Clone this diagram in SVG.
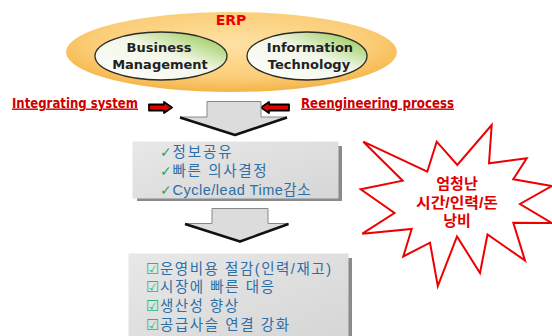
<svg xmlns="http://www.w3.org/2000/svg" width="552" height="336" viewBox="0 0 552 336">
<defs>
<radialGradient id="gOrange" cx="50%" cy="40%" r="60%">
<stop offset="0" stop-color="#fde2a4"/>
<stop offset="0.7" stop-color="#fbcd78"/>
<stop offset="1" stop-color="#f4b447"/>
</radialGradient>
<linearGradient id="gGreen" x1="0" y1="1" x2="1" y2="0">
<stop offset="0" stop-color="#ffffff"/>
<stop offset="0.55" stop-color="#f2f6e6"/>
<stop offset="1" stop-color="#86c23a"/>
</linearGradient>
<linearGradient id="gBox" x1="0" y1="0" x2="1" y2="1">
<stop offset="0" stop-color="#e8e8e8"/>
<stop offset="1" stop-color="#d6d6d6"/>
</linearGradient>
</defs>
<style>
.inner{stroke:#2a2a2a;stroke-width:1.3;fill:url(#gGreen)}
.nt{font-family:"DejaVu Sans",sans-serif;font-weight:bold;font-size:13px;fill:#222;text-anchor:middle}
.lbl{font-family:"DejaVu Sans Condensed","DejaVu Sans",sans-serif;font-weight:bold;font-size:14px;fill:#cc0000;text-decoration:underline}
.sarrow{fill:#e00000;stroke:#000;stroke-width:1.8;stroke-linejoin:round}
.bigarrow{fill:#dcdcdc;stroke:#888;stroke-width:1}
.bigedge{fill:none;stroke:#111;stroke-width:2.5;stroke-linejoin:round}
.shadow{fill:#8a8a8a}
.box{fill:url(#gBox)}
.bt{font-family:"Liberation Sans","Noto Sans CJK KR",sans-serif;font-size:14.5px;fill:#2b6fa6}
.chk{fill:#22a86e;font-family:"DejaVu Sans",sans-serif;font-size:14px}
.cb{fill:#22bb77;font-family:"DejaVu Sans",sans-serif;font-size:15px}
.star{fill:#fff;stroke:#ee0000;stroke-width:2;stroke-linejoin:miter}
.st{font-family:"Liberation Sans","Noto Sans CJK KR",sans-serif;font-weight:bold;font-size:15px;fill:#e00000;text-anchor:middle}
</style>

<g id="erp">
<ellipse cx="231.5" cy="52" rx="165.5" ry="40" fill="url(#gOrange)"/>
<text x="231" y="25" font-family="DejaVu Sans,sans-serif" font-weight="bold" font-size="14" fill="#ee0000" text-anchor="middle">ERP</text>
</g>
<g id="business">
<ellipse class="inner" cx="161" cy="56" rx="66" ry="24"/>
<text class="nt" x="159" y="51.5">Business</text>
<text class="nt" x="160" y="68.5">Management</text>
</g>
<g id="it">
<ellipse class="inner" cx="307" cy="56" rx="60" ry="24"/>
<text class="nt" x="310" y="51.5">Information</text>
<text class="nt" x="309" y="68.5">Technology</text>
</g>

<g id="integrating">
<text class="lbl" x="12" y="107.5" textLength="126" lengthAdjust="spacingAndGlyphs">Integrating system</text>
</g>
<g id="reengineering">
<text class="lbl" x="301" y="107.5" textLength="153" lengthAdjust="spacingAndGlyphs">Reengineering process</text>
</g>

<g id="connectors">
<path class="sarrow" d="M149 104.5H164V102L172 107.5L164 113V110.5H149Z"/>
<path class="sarrow" d="M289 104.5H269V102L261 107.5L269 113V110.5H289Z"/>
<path class="bigarrow" d="M207 101.5H261V117H287L235 135L180 117H207Z"/>
<path class="bigedge" d="M180 117.5L235 135L287 117.5"/>
<path class="bigarrow" d="M212 208.5H268V223.5H288.5L240 241.5L185 223.5H212Z"/>
<path class="bigedge" d="M185 224L240 241.5L288.5 224"/>
</g>

<g id="box1">
<rect class="shadow" x="137" y="146" width="205" height="55"/>
<rect class="box" x="132.5" y="141.5" width="206" height="57"/>
<text class="chk" x="160" y="157">✓</text>
<text class="bt" x="172.5" y="157" textLength="59" lengthAdjust="spacing">정보공유</text>
<text class="chk" x="160" y="176">✓</text>
<text class="bt" x="172.5" y="176" textLength="94" lengthAdjust="spacing">빠른 의사결정</text>
<text class="chk" x="160" y="195">✓</text>
<text class="bt" x="172.5" y="195" textLength="138" lengthAdjust="spacing">Cycle/lead Time감소</text>
</g>

<g id="box2">
<rect class="shadow" x="133" y="258" width="219" height="78"/>
<rect class="box" x="128.5" y="253.5" width="220" height="83"/>
<text class="cb" x="146" y="273.5">☑</text>
<text class="bt" x="160" y="273.5" textLength="171" lengthAdjust="spacing">운영비용 절감(인력/재고)</text>
<text class="cb" x="146" y="292">☑</text>
<text class="bt" x="160" y="292" textLength="114" lengthAdjust="spacing">시장에 빠른 대응</text>
<text class="cb" x="146" y="311">☑</text>
<text class="bt" x="160" y="311" textLength="78" lengthAdjust="spacing">생산성 향상</text>
<text class="cb" x="146" y="330">☑</text>
<text class="bt" x="160" y="330" textLength="129" lengthAdjust="spacing">공급사슬 연결 강화</text>
</g>

<g id="burst">
<path class="star" d="M363.3 141.7L427.3 171.7L436.7 141.7L457.3 165L491.7 125L489 163.3L526.7 158.3L513.3 179.3L551.7 186L520 204L551.7 223L513.3 222.7L525 260.5L487.5 234.5L480 273L457 236.5L437.8 286L430 242.7L403.3 256.5L411.7 229L362.3 233.7L394.5 213L360.7 189.3L402.7 180.7Z"/>
<text class="st" x="457" y="189">엄청난</text>
<text class="st" x="457" y="207.5" textLength="82" lengthAdjust="spacingAndGlyphs">시간/인력/돈</text>
<text class="st" x="457" y="226">낭비</text>
</g>
</svg>
